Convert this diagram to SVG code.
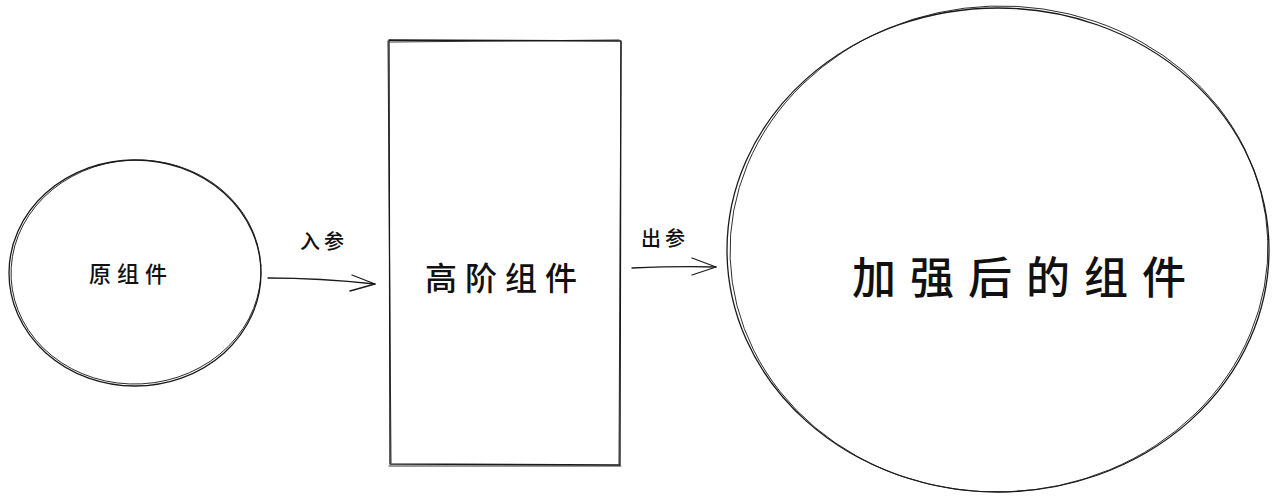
<svg xmlns="http://www.w3.org/2000/svg" width="1277" height="500" viewBox="0 0 1277 500">
<style>
.sk{fill:none;stroke:#1a1a1a;stroke-width:1.3;stroke-linecap:round;stroke-linejoin:round}
.sk2{fill:none;stroke:#1a1a1a;stroke-width:0.9;stroke-linecap:round}
.t{font-family:"Noto Sans CJK SC","Noto Sans",sans-serif;fill:#111;text-anchor:middle;dominant-baseline:central;font-weight:500}
</style>
<rect width="1277" height="500" fill="#fff"/>
<g id="node-original">
<ellipse class="sk" cx="135" cy="273" rx="126" ry="113"/>
<ellipse class="sk2" cx="136" cy="272" rx="125" ry="112" transform="rotate(-3 136 272)"/>
<text class="t" x="131" y="272" font-size="22" letter-spacing="6">原组件</text>
</g>
<g id="node-hoc">
<path class="sk" d="M389 40 L621 41 L620 465 L390 464 Z"/>
<path class="sk2" d="M390 42 L619 40 M621 42 L619 464 M389 466 L621 466 M388 41 L391 463"/>
<text class="t" x="505" y="276" font-size="32" letter-spacing="8">高阶组件</text>
</g>
<g id="node-enhanced">
<ellipse class="sk" cx="998" cy="250" rx="271" ry="242"/>
<ellipse class="sk2" cx="999" cy="249" rx="269" ry="243" transform="rotate(-2 999 249)"/>
<text class="t" x="1026" y="275" font-size="44" letter-spacing="14">加强后的组件</text>
</g>
<g id="connectors">
<path class="sk" d="M268 278 Q320 278 375 284"/>
<path class="sk" d="M352 275 L375 284 L350 291"/>
<text class="t" x="324" y="240" font-size="20" letter-spacing="4">入参</text>
<path class="sk" d="M632 268 Q680 266 716 267"/>
<path class="sk" d="M692 258 L716 267 L692 275"/>
<text class="t" x="665" y="237" font-size="20" letter-spacing="4">出参</text>
</g>
</svg>
